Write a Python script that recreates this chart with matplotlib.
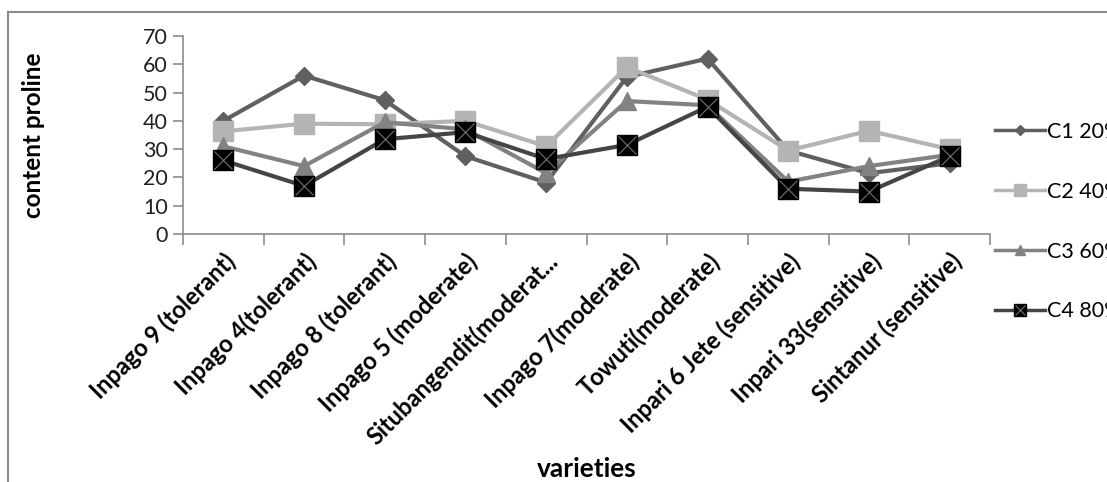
import matplotlib.pyplot as plt
import matplotlib.patches as patches
from matplotlib.legend_handler import HandlerTuple
import numpy as np

varieties = ["Inpago 9 (tolerant)", "Inpago 4(tolerant)", "Inpago 8 (tolerant)",
             "Inpago 5 (moderate)", "Situbangendit(moderat...", "Inpago 7(moderate)",
             "Towuti(moderate)", "Inpari 6 Jete (sensitive)", "Inpari 33(sensitive)",
             "Sintanur (sensitive)"]
c1 = [40, 56, 47.3, 27.5, 18.2, 55.5, 62, 29.5, 21.5, 25]
c2 = [36.3, 39, 38.8, 40, 31, 59, 47.5, 29.5, 36.5, 30]
c3 = [31, 24, 39.5, 37, 21.5, 47, 45.5, 18.5, 24, 28]
c4 = [26, 17, 33.5, 36, 26.5, 31.5, 45, 16, 15, 27.5]
series_names = ["C1 20%", "C2 40%", "C3 60%", "C4 80%"]

plt.rcParams['font.family'] = ['Lato', 'DejaVu Sans']

fig = plt.figure(figsize=(11.07, 4.82), dpi=100)
ax = fig.add_axes([183/1107, 1 - 234/482, (990 - 183)/1107, (234 - 36)/482])

# chart frame
fig.patches.append(patches.Rectangle((8/1107, -0.05), 1.1, 1 - 12/482 + 0.05,
                                     transform=fig.transFigure, fill=False,
                                     edgecolor='#8c8c8c', linewidth=1.5))

x = np.arange(len(varieties))
h1, = ax.plot(x, c1, color='#606060', lw=3, marker='D', ms=9, mec='#606060')
h2, = ax.plot(x, c2, color='#b4b4b4', lw=3, marker='s', ms=15, mec='#b4b4b4')
h3, = ax.plot(x, c3, color='#828282', lw=3, marker='^', ms=13, mec='#828282')
h4, = ax.plot(x, c4, color='#454545', lw=3, marker='s', ms=15, mfc='black', mec='black')
h4x, = ax.plot(x, c4, ls='none', marker='x', ms=13, mew=0.8, color='#707070')

ax.set_xlim(-0.5, len(varieties) - 0.5)
ax.set_ylim(0, 70)
ax.set_yticks(range(0, 71, 10))
ax.tick_params(axis='y', labelsize=15.5, labelcolor='#202020', length=7,
               color='#8c8c8c', width=1.2, pad=4)
ax.set_xticks(x)
ax.set_xticklabels(varieties, rotation=45, ha='right', rotation_mode='anchor',
                   fontsize=17, fontweight='bold')
ax.tick_params(axis='x', length=0, pad=11)
ax.set_xticks(np.arange(-0.5, len(varieties), 1), minor=True)
ax.tick_params(axis='x', which='minor', length=8, color='#8c8c8c', width=1.2)

for s in ['top', 'right']:
    ax.spines[s].set_visible(False)
for s in ['left', 'bottom']:
    ax.spines[s].set_color('#8c8c8c')
    ax.spines[s].set_linewidth(1.2)

ax.set_ylabel("content proline", fontsize=17.5, fontweight='bold')
ax.yaxis.set_label_coords(-0.171, 0.5)
fig.text(587/1107, 1 - 469/482, "varieties", fontsize=19, fontweight='bold',
         ha='center', va='center')

leg = fig.legend([h1, h2, h3, (h4, h4x)], series_names,
                 handler_map={tuple: HandlerTuple(ndivide=1)},
                 loc='upper left', bbox_to_anchor=(995/1107, 1 - 122/482),
                 frameon=False, fontsize=15.5, labelspacing=1.85, borderpad=0,
                 borderaxespad=0, handlelength=2.3, handletextpad=0.1,
                 markerscale=0.6)
for line in leg.get_lines():
    line.set_linewidth(2.5)

fig.savefig("out.png", dpi=100)
